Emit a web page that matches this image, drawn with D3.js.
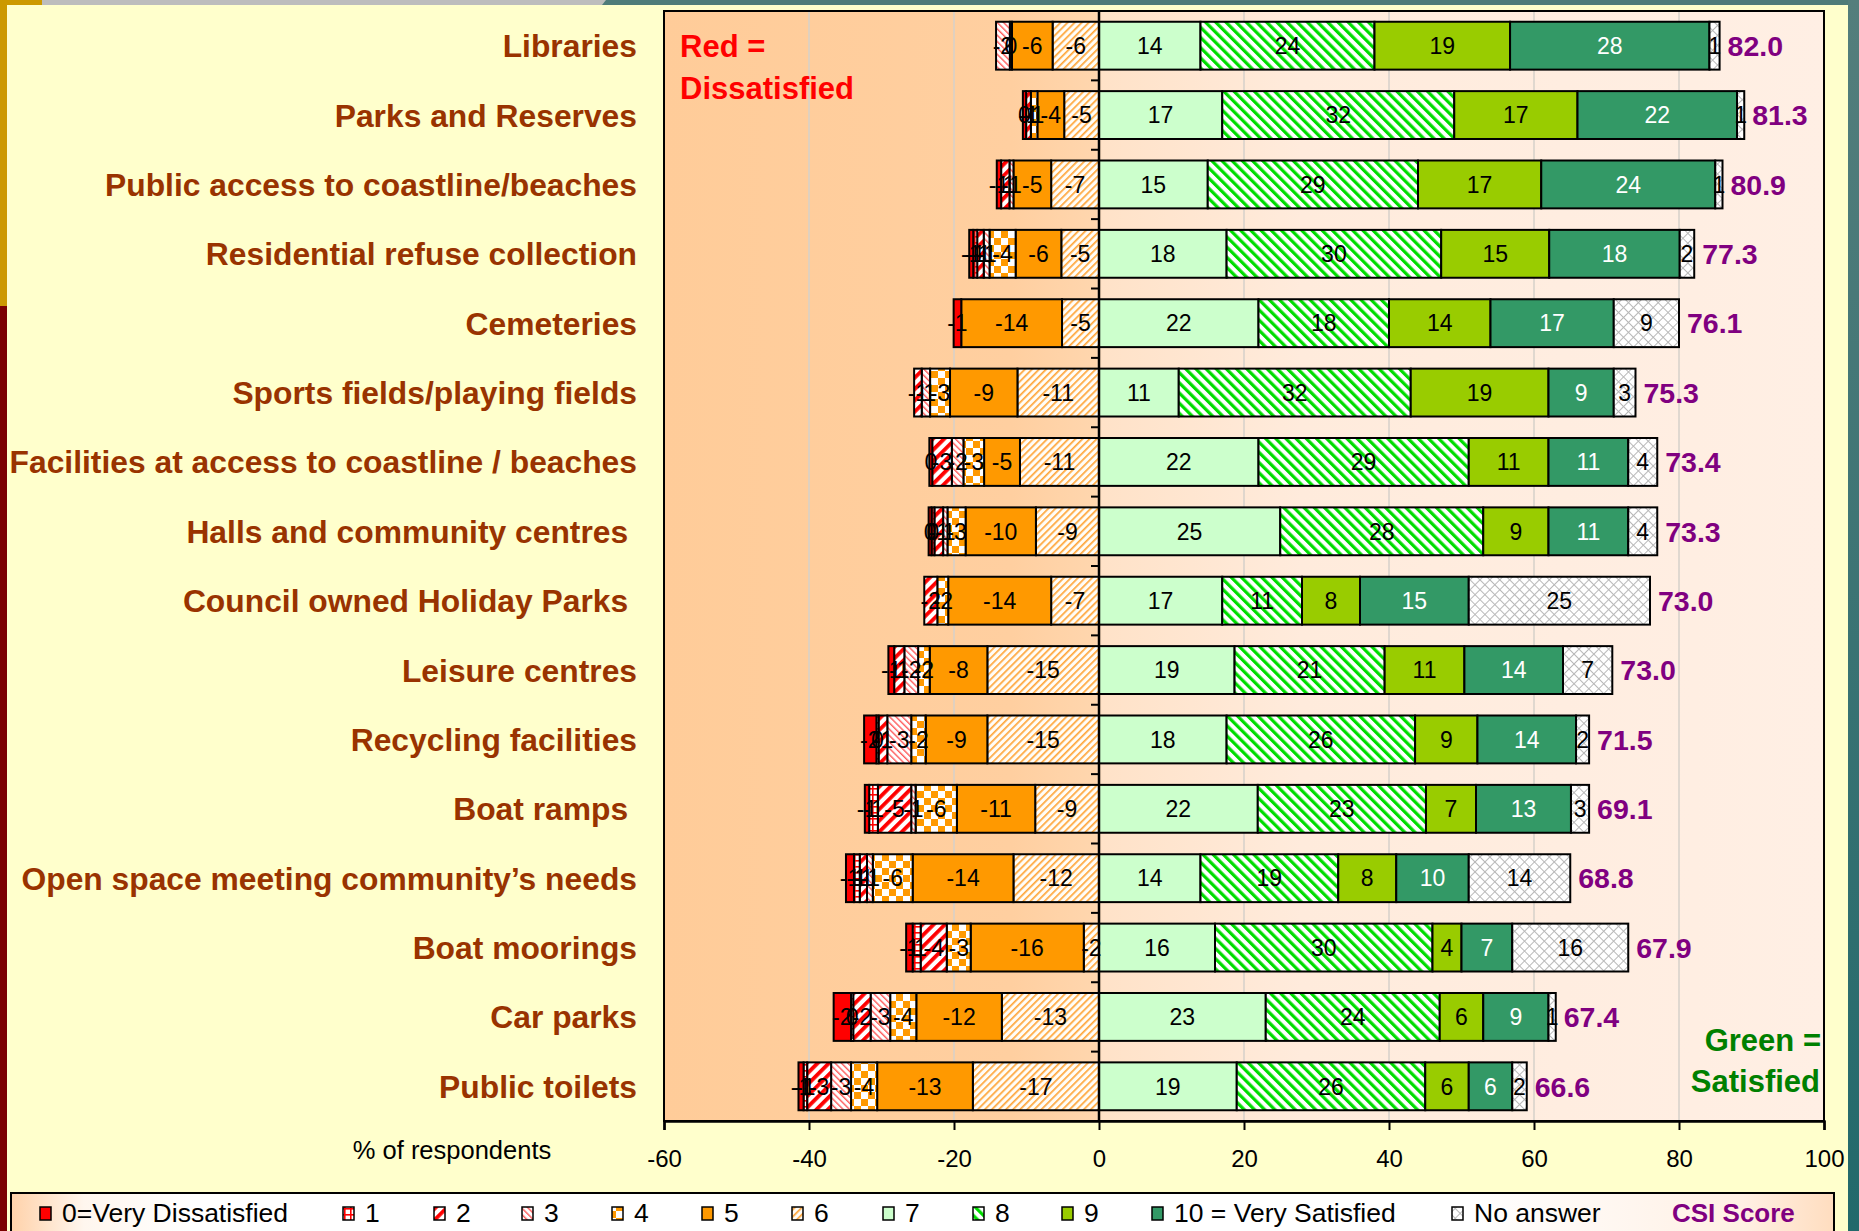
<!DOCTYPE html>
<html><head><meta charset="utf-8">
<script src="https://cdn.jsdelivr.net/npm/d3@7"></script>
<style>
body{margin:0;background:#FFFFCC;overflow:hidden;}
svg{display:block;font-family:"Liberation Sans",Arial,sans-serif;}
</style></head>
<body><svg id="c" width="1859" height="1231"></svg>
<script>
// ---------------- DATA ----------------
const categories = ["Libraries","Parks and Reserves","Public access to coastline/beaches","Residential refuse collection","Cemeteries","Sports fields/playing fields","Facilities at access to coastline / beaches","Halls and community centres ","Council owned Holiday Parks ","Leisure centres","Recycling facilities","Boat ramps ","Open space meeting community\u2019s needs","Boat moorings","Car parks","Public toilets"];
// dissatisfied side (% of respondents, drawn to the left)
const score0 = [0,0.45,0.6,0.55,1.05,0,0.4,0.4,0,0.8,1.7,0.6,1.1,0.9,2.4,0.7];
const score1 = [0,0,0,0.55,0,0,0,0.4,0,0,0.3,1.2,0.8,1.1,0.3,0.5];
const score2 = [0,0.65,1.15,0.9,0,1.05,2.7,1.2,1.8,1.4,1.2,4.6,1.0,3.6,2.4,3.3];
const score3 = [1.9,0,0.55,0.8,0,1.15,1.6,0.6,0,1.9,3.3,0.6,0.8,0,2.7,2.75];
const score4 = [0.3,0.9,0,3.6,0,2.75,2.85,2.5,1.5,1.6,2.0,5.7,5.5,3.3,3.6,3.6];
const score5 = [5.6,3.7,5.2,6.3,13.9,9.3,4.95,9.7,14.2,7.95,8.5,10.8,13.9,15.6,11.8,13.2];
const score6 = [6.4,4.8,6.6,5.2,5.1,11.25,10.9,8.7,6.6,15.4,15.4,8.8,11.8,2.1,13.4,17.4];
// satisfied side
const score7 = [14,17,15,17.6,22,11,22,25,17,18.7,17.6,21.9,14,16,23,19];
const score8 = [24,32,29,29.6,18,32,29,28,11,20.7,26.0,23.2,19,30,24,26];
const score9 = [18.7,17,17,14.9,14,19,11,9,8,11.0,8.6,6.9,8,4,6,6];
const score10 = [27.5,22,24,18,17,9,11,11,15,13.6,13.6,13.1,10,7,9,6];
const noAnswer = [1.4,1,1,2,9,3,4,4,25,6.8,1.8,2.5,14,16,1,2];
const csiScore = ["82.0","81.3","80.9","77.3","76.1","75.3","73.4","73.3","73.0","73.0","71.5","69.1","68.8","67.9","67.4","66.6"];
const xTicks = [-60,-40,-20,0,20,40,60,80,100];
const legendLabels = ["0=Very Dissatisfied","1","2","3","4","5","6","7","8","9","10 = Very Satisfied","No answer"];

// ---------------- SETUP ----------------
const svg = d3.select("#c");
const defs = svg.append("defs");

function stripePattern(id, size, angle, bg, fg, w){
  const p = defs.append("pattern").attr("id",id).attr("patternUnits","userSpaceOnUse")
    .attr("width",size).attr("height",size).attr("patternTransform",`rotate(${angle})`);
  p.append("rect").attr("width",size).attr("height",size).attr("fill",bg);
  p.append("rect").attr("width",w).attr("height",size).attr("fill",fg);
}
{
  const p = defs.append("pattern").attr("id","p1").attr("patternUnits","userSpaceOnUse").attr("width",6).attr("height",6);
  p.append("rect").attr("width",6).attr("height",6).attr("fill","#fff");
  p.append("rect").attr("width",6).attr("height",1.6).attr("y",2).attr("fill","#FF0000");
  p.append("rect").attr("width",1.6).attr("height",6).attr("x",2).attr("fill","#FF0000");
}
stripePattern("p2", 8, 45, "#fff", "#FF0000", 3.8);
stripePattern("p3", 4.5, -45, "#fff", "#FF5A5A", 1.4);
{
  const p = defs.append("pattern").attr("id","p4").attr("patternUnits","userSpaceOnUse").attr("width",14).attr("height",14);
  p.append("rect").attr("width",14).attr("height",14).attr("fill","#fff");
  p.append("rect").attr("width",7).attr("height",7).attr("fill","#FF9900");
  p.append("rect").attr("x",7).attr("y",7).attr("width",7).attr("height",7).attr("fill","#FF9900");
}
stripePattern("p6", 5, 45, "#FFFDF8", "#FFA63A", 1.7);
stripePattern("p8", 7.2, -45, "#fff", "#00DD00", 3.2);
{
  const p = defs.append("pattern").attr("id","pna").attr("patternUnits","userSpaceOnUse").attr("width",7).attr("height",7).attr("patternTransform","rotate(45)");
  p.append("rect").attr("width",7).attr("height",7).attr("fill","#fff");
  p.append("rect").attr("width",1).attr("height",7).attr("fill","#B8B8B8");
  p.append("rect").attr("width",7).attr("height",1).attr("fill","#B8B8B8");
}
const pg = defs.append("linearGradient").attr("id","plotbg").attr("x1",0).attr("x2",1).attr("y1",0).attr("y2",0);
[[0,"#FFCC99"],[0.3,"#FFCFA0"],[0.372,"#FFD6AE"],[0.378,"#FFE2C8"],[0.55,"#FFEBDC"],[1,"#FFEFE4"]].forEach(s=>pg.append("stop").attr("offset",s[0]).attr("stop-color",s[1]));
const lg = defs.append("linearGradient").attr("id","legbg").attr("x1",0).attr("x2",1).attr("y1",0).attr("y2",0);
[[0,"#FFD2AA"],[0.04,"#FFF6EE"],[0.1,"#FFFFFF"],[0.8,"#FFFFFF"],[0.95,"#FFF0E4"],[1,"#FFDDBF"]].forEach(s=>lg.append("stop").attr("offset",s[0]).attr("stop-color",s[1]));
const tg = defs.append("linearGradient").attr("id","tealbg").attr("x1",0).attr("x2",0).attr("y1",0).attr("y2",1);
[[0,"#547E7C"],[1,"#22696B"]].forEach(s=>tg.append("stop").attr("offset",s[0]).attr("stop-color",s[1]));

// ---------------- DECORATION ----------------
svg.append("rect").attr("width",1859).attr("height",1231).attr("fill","#FFFFCC");
svg.append("rect").attr("x",0).attr("y",0).attr("width",620).attr("height",5).attr("fill","#BDBDBD");
svg.append("path").attr("d","M606,0 L1859,0 L1859,5 L602,5 Z").attr("fill","#4E7B79");
svg.append("rect").attr("x",0).attr("y",0).attr("width",42).attr("height",5).attr("fill","#CC9900");
svg.append("rect").attr("x",0).attr("y",0).attr("width",7).attr("height",306).attr("fill","#CC9900");
svg.append("rect").attr("x",0).attr("y",306).attr("width",7).attr("height",925).attr("fill","#7B0000");
svg.append("rect").attr("x",1848).attr("y",0).attr("width",11).attr("height",1231).attr("fill","url(#tealbg)");

// ---------------- SCALES ----------------
const plot = {left:664, right:1824, top:11, bottom:1121};
const x = d3.scaleLinear().domain([-60,100]).range([plot.left, plot.right]);
const y = d3.scaleBand().domain(categories).range([plot.top, plot.bottom]).paddingInner(0.31).paddingOuter(0.155);

svg.append("rect").attr("x",plot.left).attr("y",plot.top).attr("width",plot.right-plot.left).attr("height",plot.bottom-plot.top).attr("fill","url(#plotbg)");

svg.append("g").selectAll("line").data(xTicks.filter(t=>t!==0 && t!==-60 && t!==100)).join("line")
  .attr("x1",d=>x(d)).attr("x2",d=>x(d)).attr("y1",plot.top).attr("y2",plot.bottom)
  .attr("stroke","#D6D0CA").attr("stroke-width",1.5);

// ---------------- BARS ----------------
const negSeries = [
  {v:score6, fill:"url(#p6)"},{v:score5, fill:"#FF9900"},{v:score4, fill:"url(#p4)"},
  {v:score3, fill:"url(#p3)"},{v:score2, fill:"url(#p2)"},{v:score1, fill:"url(#p1)"},{v:score0, fill:"#FF0000"}];
const posSeries = [
  {v:score7, fill:"#CCFFCC", txt:"#000"},{v:score8, fill:"url(#p8)", txt:"#000"},{v:score9, fill:"#99CC00", txt:"#000"},
  {v:score10, fill:"#339966", txt:"#fff"},{v:noAnswer, fill:"url(#pna)", txt:"#000"}];

const segs = [];
categories.forEach((c,i)=>{
  let acc = 0;
  negSeries.forEach(s=>{ const v=s.v[i]; if(v>0){ segs.push({c, x0:-(acc+v), x1:-acc, fill:s.fill, label: Math.round(v)===0?"0":"-"+Math.round(v), txt:"#000"}); acc+=v; } });
  acc = 0;
  posSeries.forEach(s=>{ const v=s.v[i]; if(v>0){ segs.push({c, x0:acc, x1:acc+v, fill:s.fill, label:String(Math.round(v)), txt:s.txt}); acc+=v; } });
});

const gBars = svg.append("g");
gBars.selectAll("rect").data(segs).join("rect")
  .attr("x",d=>x(d.x0)).attr("width",d=>x(d.x1)-x(d.x0))
  .attr("y",d=>y(d.c)).attr("height",y.bandwidth())
  .attr("fill",d=>d.fill).attr("stroke","#000").attr("stroke-width",2);

svg.append("line").attr("x1",x(0)).attr("x2",x(0)).attr("y1",plot.top).attr("y2",plot.bottom).attr("stroke","#000").attr("stroke-width",2.5);
svg.append("g").selectAll("line").data(d3.range(1,categories.length)).join("line")
  .attr("x1",x(0)-8).attr("x2",x(0)).attr("y1",i=>plot.top+i*y.step()).attr("y2",i=>plot.top+i*y.step())
  .attr("stroke","#000").attr("stroke-width",2);

gBars.selectAll("text").data(segs).join("text")
  .attr("x",d=>(x(d.x0)+x(d.x1))/2).attr("y",d=>y(d.c)+y.bandwidth()/2)
  .attr("dy","0.36em").attr("text-anchor","middle").attr("font-size",23).attr("fill",d=>d.txt).text(d=>d.label);

svg.append("g").selectAll("text").data(categories).join("text")
  .attr("x",(c,i)=>x(score7[i]+score8[i]+score9[i]+score10[i]+noAnswer[i])+8)
  .attr("y",c=>y(c)+y.bandwidth()/2).attr("dy","0.36em")
  .attr("font-size",28.5).attr("font-weight","bold").attr("fill","#800080").text((c,i)=>csiScore[i]);

svg.append("g").selectAll("text").data(categories).join("text")
  .attr("x",637).attr("y",c=>y(c)+y.bandwidth()/2).attr("dy","0.36em")
  .attr("text-anchor","end").attr("font-size",31.8).attr("font-weight","bold").attr("fill","#993300")
  .style("white-space","pre").text(c=>c);

svg.append("rect").attr("x",plot.left).attr("y",plot.top).attr("width",plot.right-plot.left).attr("height",plot.bottom-plot.top)
  .attr("fill","none").attr("stroke","#000").attr("stroke-width",2);

const ax = svg.append("g").attr("transform",`translate(0,${plot.bottom})`)
  .call(d3.axisBottom(x).tickValues(xTicks).tickSize(9).tickPadding(20).tickFormat(d=>String(d)));
ax.select(".domain").attr("stroke","#000").attr("stroke-width",2.5);
ax.selectAll(".tick line").attr("stroke","#000").attr("stroke-width",2);
ax.selectAll(".tick text").attr("font-size",24).attr("fill","#000").attr("font-family","Liberation Sans, Arial, sans-serif");

svg.append("text").attr("x",452).attr("y",1159).attr("text-anchor","middle").attr("font-size",25.5).attr("fill","#000").text("% of respondents");

const red = svg.append("text").attr("font-size",31).attr("font-weight","bold").attr("fill","#FF0000");
red.append("tspan").attr("x",680).attr("y",57).text("Red =");
red.append("tspan").attr("x",680).attr("y",99).text("Dissatisfied");
const green = svg.append("text").attr("font-size",31).attr("font-weight","bold").attr("fill","#008000").attr("text-anchor","end");
green.append("tspan").attr("x",1821).attr("y",1051).text("Green =");
green.append("tspan").attr("x",1820).attr("y",1092).text("Satisfied");

// ---------------- LEGEND ----------------
svg.append("rect").attr("x",11).attr("y",1193).attr("width",1823).attr("height",60).attr("fill","url(#legbg)").attr("stroke","#000").attr("stroke-width",2);
const legFills = ["#FF0000","url(#p1)","url(#p2)","url(#p3)","url(#p4)","#FF9900","url(#p6)","#CCFFCC","url(#p8)","#99CC00","#339966","url(#pna)"];
const legX = [40,343,434,522,612,702,792,883,973,1062,1152,1452];
const leg = svg.append("g");
legendLabels.forEach((lab,i)=>{
  leg.append("rect").attr("x",legX[i]).attr("y",1207).attr("width",11).attr("height",13).attr("fill",legFills[i]).attr("stroke","#000").attr("stroke-width",1.5);
  leg.append("text").attr("x",legX[i]+22).attr("y",1222).attr("font-size",26.5).attr("fill","#000").text(lab);
});
leg.append("text").attr("x",1672).attr("y",1222).attr("font-size",26).attr("font-weight","bold").attr("fill","#800080").text("CSI Score");
</script>
</body></html>
